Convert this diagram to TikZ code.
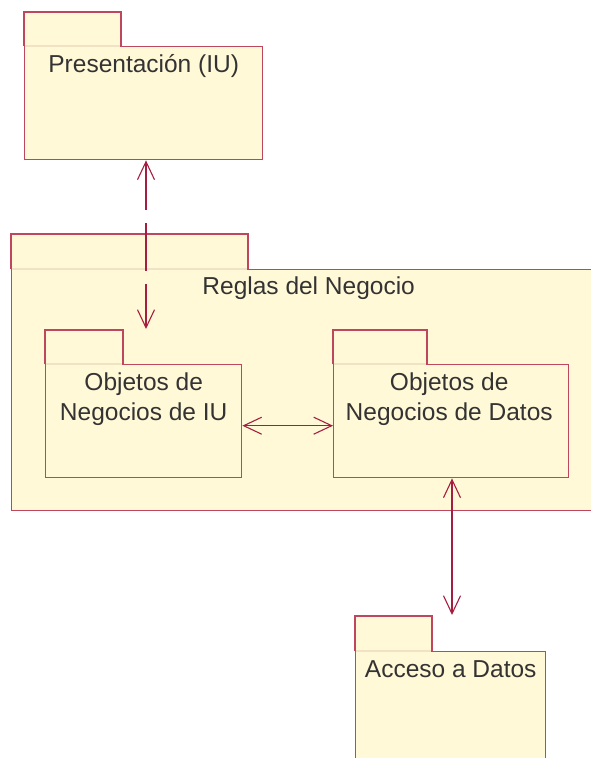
\documentclass[tikz,border=0pt]{standalone}
\usepackage{fontspec}
\setmainfont{Liberation Sans}
\usetikzlibrary{arrows.meta}
\definecolor{pkgfill}{RGB}{255,249,215}
\definecolor{pkgline}{RGB}{190,70,95}
\definecolor{linkred}{RGB}{165,30,65}
\definecolor{tabline}{RGB}{240,226,196}
\definecolor{txtgray}{RGB}{51,51,51}
\begin{document}
\begin{tikzpicture}[x=1pt,y=-1pt,
  body/.style={draw=pkgline,fill=pkgfill,line width=1.4pt,anchor=north west,inner sep=0pt},
  tab/.style={draw=pkgline,fill=pkgfill,line width=1.4pt},
  seam/.style={draw=tabline,line width=1.5pt},
  pkgname/.style={text=txtgray,font=\fontsize{24.5}{30}\selectfont,align=center,inner sep=0pt},
  link/.style={draw=linkred,line width=1.1pt,{Straight Barb[length=18pt,width=17pt]}-{Straight Barb[length=18pt,width=17pt]}}]
\path[use as bounding box,fill=white] (0,0) rectangle (590,758);

% Presentacion (IU)
\node[body,minimum width=238pt,minimum height=113pt] (pres) at (24,46) {};
\path[tab] (pres.north west) -- ++(0,-34) -- ++(97,0) -- ++(0,34);
\path[seam] ([xshift=0.8pt]pres.north west) -- ++(95.4,0);
\node[pkgname] (presname) at ([yshift=-20pt]pres.north) {Presentación (IU)};

% Reglas del Negocio
\node[body,minimum width=594pt,minimum height=241pt] (reglas) at (11,269) {};
\path[tab] (reglas.north west) -- ++(0,-35) -- ++(237,0) -- ++(0,35);
\path[seam] ([xshift=0.8pt]reglas.north west) -- ++(235.4,0);
\node[pkgname] (reglasname) at ([yshift=-19pt]reglas.north) {Reglas del Negocio};

% Objetos de Negocios de IU
\node[body,minimum width=196pt,minimum height=113pt] (iu) at (45,364) {};
\path[tab] (iu.north west) -- ++(0,-34) -- ++(78,0) -- ++(0,34);
\path[seam] ([xshift=0.8pt]iu.north west) -- ++(76.4,0);
\node[pkgname] (iuname) at ([yshift=-35pt]iu.north) {Objetos de\\Negocios de IU};

% Objetos de Negocios de Datos
\node[body,minimum width=235pt,minimum height=113pt] (datos) at (333,364) {};
\path[tab] (datos.north west) -- ++(0,-34) -- ++(94,0) -- ++(0,34);
\path[seam] ([xshift=0.8pt]datos.north west) -- ++(92.4,0);
\node[pkgname] (datosname) at ([xshift=-2pt,yshift=-35pt]datos.north) {Objetos de\\Negocios de Datos};

% Acceso a Datos
\node[body,minimum width=190pt,minimum height=130pt] (acceso) at (355,651) {};
\path[tab] (acceso.north west) -- ++(0,-35) -- ++(77,0) -- ++(0,35);
\path[seam] ([xshift=0.8pt]acceso.north west) -- ++(75.4,0);
\node[pkgname] (accesoname) at ([yshift=-18pt]acceso.north) {Acceso a Datos};

% dependencias
\coordinate (iuin) at (146,329);
\coordinate (accin) at (452,615);
\path[link,dash pattern=on 48pt off 13pt] (pres.south -| iuin) -- (iuin);
\path[link] ([yshift=-4.5pt]iu.east) -- ([yshift=-4.5pt]datos.west);
\path[link] (datos.south -| accin) -- (accin);
\end{tikzpicture}
\end{document}
